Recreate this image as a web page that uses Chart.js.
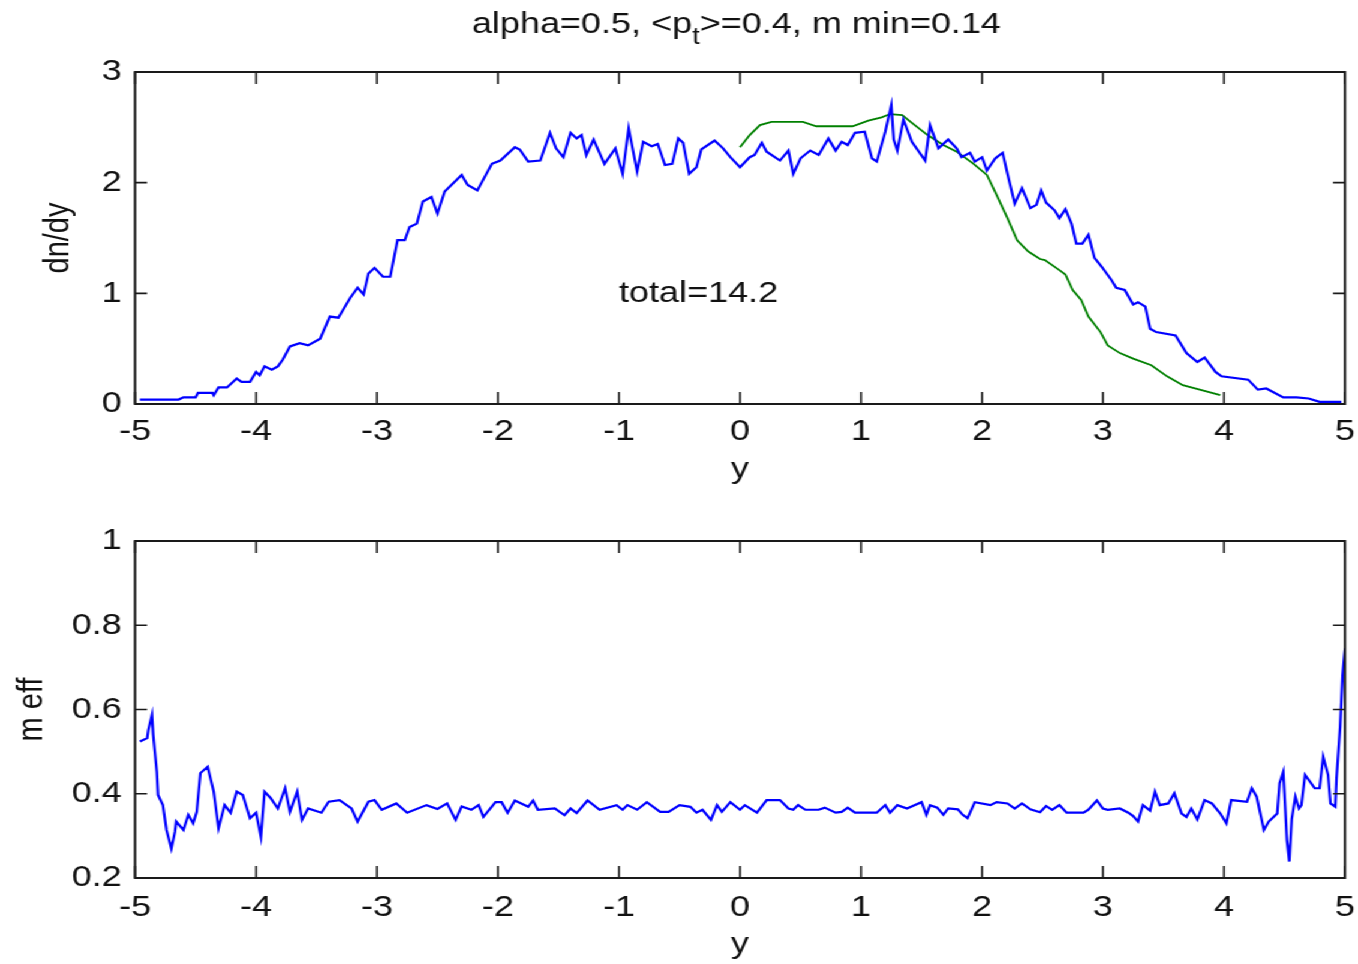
<!DOCTYPE html>
<html>
<head>
<meta charset="utf-8">
<script src="https://cdn.jsdelivr.net/npm/chart.js@4.4.1/dist/chart.umd.min.js"></script>
<style>
body{margin:0;background:#fff;overflow:hidden}
#wrap{position:absolute;left:0;top:0;width:1132px;height:964px;transform:scaleX(1.19965);transform-origin:0 0}
#c1{position:absolute;left:0;top:0}
#c2{position:absolute;left:0;top:500px}
</style>
</head>
<body>
<div id="wrap">
<canvas id="c1" width="1132" height="500"></canvas>
<canvas id="c2" width="1132" height="464"></canvas>
</div>
<script>
// top panel, blue: dn/dy
var dnX = [-4.96,-4.64,-4.60,-4.50,-4.48,-4.36,-4.35,-4.31,-4.24,-4.16,-4.12,-4.05,-4.00,-3.97,-3.93,-3.87,-3.82,-3.78,-3.72,-3.64,
  -3.57,-3.47,-3.39,-3.32,-3.22,-3.16,-3.11,-3.07,-3.02,-2.95,-2.89,-2.83,-2.77,-2.73,-2.67,-2.62,-2.55,-2.50,-2.44,-2.30,
  -2.25,-2.17,-2.05,-1.98,-1.86,-1.82,-1.75,-1.65,-1.57,-1.52,-1.46,-1.40,-1.35,-1.31,-1.27,-1.21,-1.12,-1.03,-0.97,-0.92,
  -0.85,-0.80,-0.73,-0.68,-0.62,-0.56,-0.51,-0.47,-0.42,-0.36,-0.32,-0.21,-0.14,-0.08,0.00,0.08,0.12,0.18,0.22,0.33,
  0.40,0.44,0.50,0.58,0.65,0.73,0.79,0.84,0.89,0.95,1.03,1.09,1.13,1.20,1.25,1.27,1.30,1.35,1.42,1.53,
  1.57,1.64,1.72,1.79,1.83,1.90,1.94,2.00,2.04,2.11,2.17,2.21,2.27,2.33,2.40,2.45,2.49,2.53,2.60,2.64,
  2.69,2.74,2.78,2.83,2.88,2.93,2.99,3.07,3.11,3.18,3.25,3.29,3.35,3.39,3.44,3.60,3.69,3.78,3.84,3.93,
  3.98,4.20,4.28,4.35,4.49,4.60,4.70,4.79,4.97];
var dnY = [0.04,0.04,0.06,0.06,0.10,0.10,0.08,0.15,0.15,0.23,0.20,0.20,0.29,0.26,0.34,0.31,0.34,0.40,0.52,0.55,
  0.53,0.59,0.79,0.78,0.96,1.05,0.99,1.18,1.23,1.15,1.15,1.48,1.48,1.60,1.63,1.83,1.87,1.72,1.92,2.07,
  1.98,1.93,2.17,2.20,2.32,2.30,2.19,2.20,2.45,2.31,2.23,2.45,2.40,2.43,2.25,2.39,2.17,2.31,2.08,2.49,
  2.10,2.37,2.33,2.35,2.16,2.17,2.40,2.36,2.08,2.14,2.30,2.38,2.31,2.23,2.14,2.23,2.25,2.36,2.28,2.20,
  2.29,2.08,2.22,2.29,2.25,2.40,2.29,2.37,2.34,2.45,2.46,2.22,2.19,2.46,2.70,2.39,2.29,2.57,2.37,2.20,
  2.52,2.31,2.39,2.31,2.23,2.27,2.19,2.23,2.11,2.22,2.27,2.08,1.81,1.95,1.77,1.80,1.93,1.82,1.75,1.68,
  1.76,1.63,1.45,1.45,1.53,1.32,1.24,1.12,1.05,1.03,0.90,0.92,0.88,0.68,0.65,0.62,0.46,0.38,0.42,0.29,
  0.25,0.22,0.13,0.14,0.06,0.06,0.05,0.02,0.02];

// top panel, green
var gX = [0.00,0.08,0.165,0.26,0.52,0.63,0.93,1.06,1.17,1.24,1.34,1.42,1.55,1.68,1.79,1.93,2.04,2.12,2.21,2.29,
  2.38,2.48,2.52,2.64,2.69,2.75,2.82,2.88,2.98,3.04,3.14,3.25,3.40,3.53,3.66,3.80,3.97];
var gY = [2.32,2.43,2.52,2.55,2.55,2.51,2.51,2.56,2.59,2.62,2.61,2.54,2.43,2.34,2.28,2.17,2.07,1.89,1.68,1.48,
  1.38,1.31,1.30,1.21,1.17,1.03,0.94,0.79,0.65,0.53,0.46,0.41,0.35,0.25,0.17,0.13,0.08];

// bottom panel: m eff
var mX = [-4.96,-4.90,-4.89,-4.86,-4.85,-4.82,-4.81,-4.77,-4.74,-4.70,-4.67,-4.66,-4.60,-4.56,-4.52,-4.49,-4.46,-4.40,-4.35,-4.31,
  -4.26,-4.21,-4.16,-4.11,-4.05,-4.00,-3.96,-3.93,-3.88,-3.82,-3.76,-3.72,-3.66,-3.62,-3.57,-3.46,-3.40,-3.31,-3.21,-3.16,
  -3.07,-3.02,-2.96,-2.84,-2.75,-2.59,-2.50,-2.42,-2.35,-2.30,-2.22,-2.16,-2.12,-2.02,-1.97,-1.92,-1.86,-1.75,-1.71,-1.67,
  -1.53,-1.45,-1.40,-1.35,-1.26,-1.16,-1.02,-0.97,-0.93,-0.85,-0.77,-0.66,-0.59,-0.50,-0.41,-0.36,-0.31,-0.24,-0.19,-0.15,
  -0.08,0.00,0.04,0.14,0.22,0.33,0.40,0.44,0.48,0.54,0.65,0.70,0.79,0.84,0.89,0.95,1.13,1.20,1.24,1.30,
  1.38,1.46,1.50,1.54,1.57,1.63,1.68,1.72,1.80,1.84,1.88,1.94,2.07,2.12,2.21,2.27,2.33,2.40,2.48,2.53,
  2.58,2.64,2.70,2.84,2.88,2.95,3.00,3.04,3.14,3.21,3.25,3.29,3.33,3.39,3.43,3.47,3.54,3.59,3.65,3.69,
  3.73,3.78,3.84,3.90,3.97,4.02,4.06,4.19,4.23,4.27,4.33,4.37,4.44,4.46,4.49,4.50,4.52,4.54,4.56,4.59,
  4.62,4.64,4.67,4.71,4.75,4.79,4.82,4.86,4.88,4.92,4.93,4.96,4.98,5.00];
var mY = [0.524,0.532,0.551,0.587,0.540,0.452,0.397,0.373,0.314,0.270,0.310,0.334,0.314,0.350,0.330,0.357,0.449,0.464,0.405,0.318,
  0.373,0.355,0.405,0.397,0.342,0.355,0.298,0.405,0.390,0.365,0.413,0.357,0.405,0.338,0.365,0.355,0.381,0.385,0.365,0.334,
  0.381,0.385,0.362,0.377,0.355,0.373,0.364,0.377,0.338,0.370,0.362,0.373,0.345,0.380,0.380,0.355,0.384,0.369,0.384,0.362,
  0.365,0.349,0.365,0.354,0.384,0.362,0.373,0.362,0.373,0.362,0.380,0.357,0.357,0.373,0.369,0.355,0.362,0.338,0.373,0.357,
  0.380,0.362,0.373,0.355,0.385,0.385,0.365,0.362,0.373,0.362,0.362,0.367,0.355,0.357,0.367,0.355,0.355,0.373,0.355,0.373,
  0.365,0.375,0.380,0.350,0.373,0.367,0.350,0.365,0.363,0.350,0.342,0.380,0.373,0.380,0.377,0.365,0.377,0.363,0.356,0.371,
  0.362,0.373,0.355,0.355,0.362,0.384,0.365,0.362,0.365,0.355,0.347,0.334,0.373,0.360,0.405,0.373,0.377,0.401,0.353,0.345,
  0.365,0.339,0.385,0.377,0.353,0.330,0.385,0.381,0.413,0.393,0.314,0.334,0.353,0.425,0.452,0.401,0.290,0.239,0.340,0.393,
  0.365,0.373,0.445,0.429,0.413,0.413,0.488,0.445,0.377,0.369,0.437,0.559,0.682,0.745];

var xTicks = [-5,-4,-3,-2,-1,0,1,2,3,4,5];
var topTicks = [0,1,2,3];
var botTicks = [0.2,0.4,0.6,0.8,1];

var SX = 1358 / 1132;
var FONT = '"Liberation Sans", Arial, Helvetica, sans-serif';
var INK = '#111';

function pairs(xs, ys) {
    var out = [];
    for (var i = 0; i < xs.length; i++) out.push({x: xs[i], y: ys[i]});
    return out;
}

// matlab style box with inward ticks
var boxTicks = {
    id: 'boxTicks',
    afterDraw: function(chart) {
        var ctx = chart.ctx, a = chart.chartArea;
        var sx = chart.scales.x, sy = chart.scales.y;
        ctx.save();
        ctx.strokeStyle = '#1a1a1a';
        ctx.lineWidth = 1.6;
        ctx.beginPath();
        sx.ticks.forEach(function(t) {
            var p = sx.getPixelForValue(t.value);
            ctx.moveTo(p, a.bottom); ctx.lineTo(p, a.bottom - 12);
            ctx.moveTo(p, a.top); ctx.lineTo(p, a.top + 12);
        });
        sy.ticks.forEach(function(t) {
            var p = sy.getPixelForValue(t.value);
            ctx.moveTo(a.left, p); ctx.lineTo(a.left + 10, p);
            ctx.moveTo(a.right, p); ctx.lineTo(a.right - 10, p);
        });
        ctx.stroke();
        ctx.lineWidth = 2;
        ctx.strokeRect(a.left, a.top, a.right - a.left, a.bottom - a.top);
        ctx.restore();
    }
};

var topText = {
    id: 'topText',
    afterDraw: function(chart) {
        var ctx = chart.ctx, a = chart.chartArea;
        var sx = chart.scales.x, sy = chart.scales.y;
        ctx.save();
        ctx.fillStyle = INK;
        // title with subscript t
        var p1 = 'alpha=0.5, <p', p2 = 't', p3 = '>=0.4, m min=0.14';
        ctx.font = '30px ' + FONT;
        var w1 = ctx.measureText(p1).width, w3 = ctx.measureText(p3).width;
        ctx.font = '23px ' + FONT;
        var w2 = ctx.measureText(p2).width;
        var x0 = (a.left + a.right) / 2 - (w1 + w2 + w3) / 2 - 3;
        ctx.textBaseline = 'alphabetic';
        ctx.textAlign = 'left';
        ctx.font = '30px ' + FONT;
        ctx.fillText(p1, x0, 33);
        ctx.font = '23px ' + FONT;
        ctx.fillText(p2, x0 + w1, 44);
        ctx.font = '30px ' + FONT;
        ctx.fillText(p3, x0 + w1 + w2, 33);
        // annotation
        ctx.font = '30px ' + FONT;
        ctx.textBaseline = 'middle';
        ctx.fillText('total=14.2', sx.getPixelForValue(-1), sy.getPixelForValue(1));
        ctx.restore();
    }
};

function makeScales(yMin, yMax, yTicks, yTitle, yTitleOff, xH, xPad, xTitlePad) {
    return {
        x: {
            type: 'linear', min: -5, max: 5,
            afterBuildTicks: function(s) { s.ticks = xTicks.map(function(v) { return {value: v}; }); },
            grid: {display: false}, border: {display: false},
            ticks: {color: INK, font: {family: FONT, size: 30}, padding: xPad, maxRotation: 0,
                    callback: function(v) { return String(v); }},
            title: {display: true, text: 'y', color: INK, font: {family: FONT, size: 30},
                    padding: {top: 0, bottom: xTitlePad}},
            afterFit: function(s) { s.height = xH; s.paddingLeft = 0; s.paddingRight = 0; }
        },
        y: {
            type: 'linear', min: yMin, max: yMax,
            afterBuildTicks: function(s) { s.ticks = yTicks.map(function(v) { return {value: v}; }); },
            grid: {display: false}, border: {display: false},
            ticks: {color: INK, font: {family: FONT, size: 30}, padding: 3,
                    callback: function(v) { return String(+v.toFixed(1)); }},
            title: {display: true, text: yTitle, color: INK, font: {family: FONT, size: 29},
                    padding: {top: yTitleOff, bottom: 0}},
            afterFit: function(s) { s.width = 135 / SX; s.paddingTop = 0; s.paddingBottom = 0; }
        }
    };
}

Chart.defaults.font.family = FONT;

new Chart(document.getElementById('c1'), {
    type: 'line',
    data: {
        datasets: [
            {data: pairs(dnX, dnY), borderColor: '#0000ff', borderWidth: 2.2, pointRadius: 0, tension: 0},
            {data: pairs(gX, gY), borderColor: '#008000', borderWidth: 1.8, pointRadius: 0, tension: 0}
        ]
    },
    options: {
        responsive: false, animation: false, devicePixelRatio: 1,
        layout: {padding: {left: 0, right: 1132 - 1345 / SX, top: 72, bottom: 0}},
        plugins: {legend: {display: false}, tooltip: {enabled: false}},
        scales: makeScales(0, 3, topTicks, 'dn/dy', 32, 96, 2, 12)
    },
    plugins: [boxTicks, topText]
});

new Chart(document.getElementById('c2'), {
    type: 'line',
    data: {
        datasets: [
            {data: pairs(mX, mY), borderColor: '#0000ff', borderWidth: 2.2, pointRadius: 0, tension: 0}
        ]
    },
    options: {
        responsive: false, animation: false, devicePixelRatio: 1,
        layout: {padding: {left: 0, right: 1132 - 1345 / SX, top: 41, bottom: 0}},
        plugins: {legend: {display: false}, tooltip: {enabled: false}},
        scales: makeScales(0.2, 1, botTicks, 'm eff', 10, 86, 4, 1)
    },
    plugins: [boxTicks]
});
</script>
</body>
</html>
